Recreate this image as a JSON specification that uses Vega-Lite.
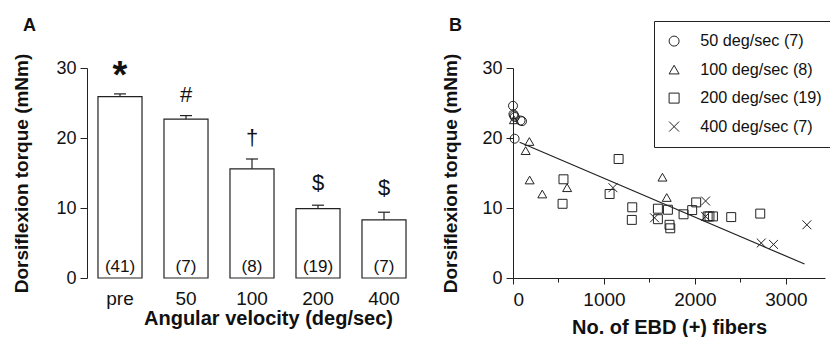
{
  "$schema": "https://vega.github.io/schema/vega-lite/v6.json",
  "padding": {"left": 12, "right": 0, "top": 17, "bottom": 0},
  "background": "white",
  "config": {
    "font": "Liberation Sans",
    "view": {"stroke": null},
    "axis": {"labelFont": "Liberation Sans", "titleFont": "Liberation Sans", "domainColor": "#222", "tickColor": "#222", "labelColor": "#111", "titleColor": "#111", "grid": false, "domainWidth": 1, "tickWidth": 1},
    "title": {"font": "Liberation Sans", "color": "#111"}
  },
  "datasets": {
    "bars": [
      {"v": "pre", "mean": 25.9, "err": 26.3, "n": "(41)", "sig": "*", "sig_y": 27.2},
      {"v": "50", "mean": 22.7, "err": 23.2, "n": "(7)", "sig": "#", "sig_y": 25.1},
      {"v": "100", "mean": 15.6, "err": 17.0, "n": "(8)", "sig": "\u2020", "sig_y": 19.0},
      {"v": "200", "mean": 9.9, "err": 10.4, "n": "(19)", "sig": "$", "sig_y": 12.6},
      {"v": "400", "mean": 8.3, "err": 9.4, "n": "(7)", "sig": "$", "sig_y": 11.9}
    ],
    "pts": [
      {"group": "50 deg/sec (7)", "fibers": 0, "torque": 24.6},
      {"group": "50 deg/sec (7)", "fibers": 5, "torque": 23.4},
      {"group": "50 deg/sec (7)", "fibers": 12, "torque": 23.2},
      {"group": "50 deg/sec (7)", "fibers": 20, "torque": 23.0},
      {"group": "50 deg/sec (7)", "fibers": 83, "torque": 22.5},
      {"group": "50 deg/sec (7)", "fibers": 99, "torque": 22.4},
      {"group": "50 deg/sec (7)", "fibers": 18, "torque": 19.9},
      {"group": "100 deg/sec (8)", "fibers": 10, "torque": 22.6},
      {"group": "100 deg/sec (8)", "fibers": 139, "torque": 18.2},
      {"group": "100 deg/sec (8)", "fibers": 180, "torque": 19.5},
      {"group": "100 deg/sec (8)", "fibers": 183, "torque": 14.0},
      {"group": "100 deg/sec (8)", "fibers": 322, "torque": 12.0},
      {"group": "100 deg/sec (8)", "fibers": 595, "torque": 12.9},
      {"group": "100 deg/sec (8)", "fibers": 1643, "torque": 14.4},
      {"group": "100 deg/sec (8)", "fibers": 1690, "torque": 11.5},
      {"group": "200 deg/sec (19)", "fibers": 555, "torque": 14.1},
      {"group": "200 deg/sec (19)", "fibers": 545, "torque": 10.6},
      {"group": "200 deg/sec (19)", "fibers": 1062, "torque": 12.0},
      {"group": "200 deg/sec (19)", "fibers": 1161, "torque": 17.0},
      {"group": "200 deg/sec (19)", "fibers": 1311, "torque": 10.1},
      {"group": "200 deg/sec (19)", "fibers": 1306, "torque": 8.3},
      {"group": "200 deg/sec (19)", "fibers": 1593, "torque": 9.9},
      {"group": "200 deg/sec (19)", "fibers": 1593, "torque": 8.4},
      {"group": "200 deg/sec (19)", "fibers": 1703, "torque": 9.75},
      {"group": "200 deg/sec (19)", "fibers": 1721, "torque": 7.6},
      {"group": "200 deg/sec (19)", "fibers": 1729, "torque": 7.1},
      {"group": "200 deg/sec (19)", "fibers": 1875, "torque": 9.1},
      {"group": "200 deg/sec (19)", "fibers": 1970, "torque": 9.7},
      {"group": "200 deg/sec (19)", "fibers": 2014, "torque": 10.8},
      {"group": "200 deg/sec (19)", "fibers": 2140, "torque": 8.8},
      {"group": "200 deg/sec (19)", "fibers": 2160, "torque": 8.8},
      {"group": "200 deg/sec (19)", "fibers": 2198, "torque": 8.8},
      {"group": "200 deg/sec (19)", "fibers": 2399, "torque": 8.7},
      {"group": "200 deg/sec (19)", "fibers": 2718, "torque": 9.2},
      {"group": "400 deg/sec (7)", "fibers": 1099, "torque": 12.9},
      {"group": "400 deg/sec (7)", "fibers": 1556, "torque": 8.6},
      {"group": "400 deg/sec (7)", "fibers": 2117, "torque": 11.0},
      {"group": "400 deg/sec (7)", "fibers": 2117, "torque": 8.8},
      {"group": "400 deg/sec (7)", "fibers": 2729, "torque": 5.0},
      {"group": "400 deg/sec (7)", "fibers": 2864, "torque": 4.8},
      {"group": "400 deg/sec (7)", "fibers": 3231, "torque": 7.6}
    ],
    "fit": [
      {"fibers": 73, "torque": 19.4},
      {"fibers": 3205, "torque": 2.0}
    ]
  },
  "spacing": 24,
  "hconcat": [
    {
      "width": 330,
      "height": 210,
      "title": {"text": "A", "anchor": "start", "frame": "group", "dx": -64, "offset": 18, "fontSize": 18, "fontWeight": "bold"},
      "data": {"name": "bars"},
      "encoding": {
        "x": {
          "field": "v", "type": "nominal", "sort": ["pre", "50", "100", "200", "400"],
          "scale": {"paddingInner": 0.333, "paddingOuter": 0.1665},
          "axis": {"domain": false, "ticks": false, "labelAngle": 0, "labelFontSize": 19, "labelPadding": 11, "title": "Angular velocity (deg/sec)", "titleFontSize": 20, "titleFontWeight": "bold", "titlePadding": 0, "titleX": 181, "titleAlign": "center"}
        }
      },
      "layer": [
        {
          "mark": {"type": "bar", "fill": "white", "stroke": "#222", "strokeWidth": 1.2},
          "encoding": {
            "y": {
              "field": "mean", "type": "quantitative", "scale": {"domain": [0, 30], "nice": false},
              "axis": {
                "values": [0, 5, 10, 15, 20, 25, 30],
                "labelExpr": "datum.value % 10 === 0 ? datum.label : ''",
                "tickSize": {"condition": {"test": "datum.value % 10 === 0", "value": 7}, "value": 4},
                "labelFontSize": 18, "labelPadding": 4,
                "title": "Dorsiflexion torque (mNm)", "titleFontSize": 19, "titleFontWeight": "bold", "titlePadding": 24
              }
            }
          }
        },
        {
          "mark": {"type": "rule", "color": "#222", "strokeWidth": 1.2},
          "encoding": {"y": {"field": "mean", "type": "quantitative"}, "y2": {"field": "err"}}
        },
        {
          "mark": {"type": "tick", "orient": "horizontal", "size": 12, "thickness": 1.2, "color": "#222", "opacity": 1},
          "encoding": {"y": {"field": "err", "type": "quantitative"}}
        },
        {
          "mark": {"type": "text", "fontSize": 17, "color": "#111", "baseline": "alphabetic"},
          "encoding": {"y": {"datum": 0.8, "type": "quantitative"}, "text": {"field": "n"}}
        },
        {
          "transform": [{"filter": "datum.sig != '*'"}],
          "mark": {"type": "text", "fontSize": 22, "color": "#111", "baseline": "alphabetic"},
          "encoding": {"y": {"field": "sig_y", "type": "quantitative"}, "text": {"field": "sig"}}
        },
        {
          "transform": [{"filter": "datum.sig == '*'"}],
          "mark": {"type": "text", "fontSize": 38, "fontWeight": "bold", "color": "#111", "baseline": "alphabetic"},
          "encoding": {"y": {"field": "sig_y", "type": "quantitative"}, "text": {"field": "sig"}}
        }
      ]
    },
    {
      "width": 312,
      "height": 210,
      "title": {"text": "B", "anchor": "start", "frame": "group", "dx": -64, "offset": 18, "fontSize": 18, "fontWeight": "bold"},
      "layer": [
        {
          "data": {"name": "pts"},
          "mark": {"type": "point", "filled": false, "strokeWidth": 1, "size": 80, "color": "#222", "opacity": 1},
          "encoding": {
            "x": {
              "field": "fibers", "type": "quantitative", "scale": {"domain": [0, 3430], "nice": false, "zero": true},
              "axis": {
                "values": [0, 500, 1000, 1500, 2000, 2500, 3000],
                "format": "d",
                "labelExpr": "datum.value % 1000 === 0 ? datum.label : ''",
                "tickSize": {"condition": {"test": "datum.value % 1000 === 0", "value": 6}, "value": 4},
                "labelFontSize": 19, "labelPadding": 6,
                "title": "No. of EBD (+) fibers", "titleFontSize": 20, "titleFontWeight": "bold", "titlePadding": 8
              }
            },
            "y": {
              "field": "torque", "type": "quantitative", "scale": {"domain": [0, 30], "nice": false},
              "axis": {
                "values": [0, 5, 10, 15, 20, 25, 30],
                "labelExpr": "datum.value % 10 === 0 ? datum.label : ''",
                "tickSize": {"condition": {"test": "datum.value % 10 === 0", "value": 7}, "value": 4},
                "labelFontSize": 18, "labelPadding": 4,
                "title": "Dorsiflexion torque (mNm)", "titleFontSize": 19, "titleFontWeight": "bold", "titlePadding": 21
              }
            },
            "shape": {
              "field": "group", "type": "nominal",
              "scale": {
                "domain": ["50 deg/sec (7)", "100 deg/sec (8)", "200 deg/sec (19)", "400 deg/sec (7)"],
                "range": ["circle", "triangle-up", "square", "M-1,-1L1,1M1,-1L-1,1"]
              },
              "legend": {
                "title": null, "orient": "none", "legendX": 567, "legendY": -47,
                "strokeColor": "#222", "fillColor": "white", "padding": 12,
                "symbolSize": 100, "symbolStrokeWidth": 1, "symbolStrokeColor": "#222", "symbolFillColor": "transparent",
                "labelFontSize": 16.2, "labelOffset": 18, "rowPadding": 11.5, "labelColor": "#111", "labelFont": "Liberation Sans",
                "labelExpr": "datum.label == '50 deg/sec (7)' ? '\u2007' + datum.label : datum.label"
              }
            }
          }
        },
        {
          "data": {"name": "fit"},
          "mark": {"type": "line", "color": "#222", "strokeWidth": 1.2},
          "encoding": {
            "x": {"field": "fibers", "type": "quantitative"},
            "y": {"field": "torque", "type": "quantitative"}
          }
        }
      ]
    }
  ]
}
